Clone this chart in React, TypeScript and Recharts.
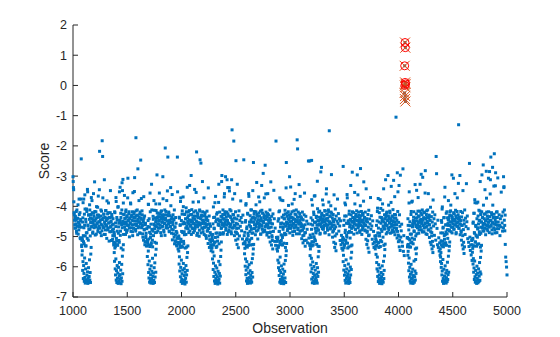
import React from 'react';
import { ScatterChart, Scatter, XAxis, YAxis } from 'recharts';

const xTicks = [1000, 1500, 2000, 2500, 3000, 3500, 4000, 4500, 5000];
const yTicks = [-7, -6, -5, -4, -3, -2, -1, 0, 1, 2];

// Scores x100. Band series A: one value every 4 observations from each start; series B: offset by 2.
const bandStep = 4;
const dipStep = 3;
const bandStarts = [1000, 1085, 1380, 1686, 1975, 2286, 2583, 2886, 3186, 3490, 3793, 4083, 4390, 4683, 4968];
const dipStarts = [1080, 1377, 1682, 1972, 2280, 2578, 2882, 3182, 3484, 3790, 4080, 4385, 4678];

const a00 = [-302, -338, -385, -428, -461, -437, -472, -446, -483, -412, -465, -439, -492, -455, -376, -468, -421, -507, -449, -243, -533];
const a01 = [-505, -452, -388, -517, -471, -426, -362, -498, -443, -531, -409, -487, -344, -462, -512, -428, -476, -395,
  -475, -438, -452, -371, -466, -421, -489, -447, -358, -433, -462, -417, -495, -442, -468, -401, -455, -429, -483, -366, -451, -436, -218, -472, -445, -412, -497, -462, -183, -235, -438, -471, -426, -312, -458, -493, -414, -447, -466, -382, -439, -478, -421, -455, -515, -437, -469, -348, -452, -484, -427, -462, -509, -441, -475, -522];
const a02 = [-492, -418, -523, -455, -371, -506, -437, -482, -529, -401, -468, -513, -352, -447, -496, -423, -538, -461,
  -322, -348, -311, -389, -452, -427, -468, -441, -493, -412, -458, -436, -479, -372, -447, -463, -418, -501, -438, -455, -392, -471, -429, -446, -484, -355, -462, -437, -419, -305, -448, -476, -173, -431, -458, -412, -494, -443, -467, -381, -452, -426, -489, -247, -439, -471, -415, -463, -502, -446, -368, -478, -432, -517, -456, -498, -531, -474];
const a03 = [-511, -467, -393, -528, -441, -486, -356, -503, -459, -521, -412, -478, -534, -433, -497, -381, -462, -519,
  -487, -452, -414, -468, -296, -437, -481, -423, -459, -446, -392, -472, -435, -418, -497, -451, -428, -466, -375, -443, -485, -457, -412, -207, -439, -471, -428, -462, -349, -237, -448, -419, -482, -455, -431, -467, -398, -442, -476, -361, -453, -428, -491, -445, -412, -469, -514, -437, -456, -527, -488, -237, -502];
const a04 = [-498, -436, -521, -463, -384, -509, -447, -532, -415, -487, -369, -516, -452, -494, -427, -538, -472, -405,
  -535, -472, -438, -456, -419, -487, -445, -331, -466, -428, -452, -493, -411, -447, -474, -386, -458, -432, -481, -443, -467, -415, -354, -220, -452, -489, -427, -461, -438, -499, -412, -246, -457, -257, -433, -471, -446, -418, -484, -452, -372, -469, -428, -455, -497, -436, -462, -416, -481, -447, -339, -474, -432, -458, -511, -466, -519, -493, -538, -503];
const a05 = [-513, -458, -402, -527, -474, -436, -518, -367, -489, -445, -532, -421, -501, -462, -387, -524, -448, -493,
  -491, -452, -473, -318, -436, -461, -412, -487, -443, -369, -458, -427, -302, -472, -446, -419, -493, -338, -455, -432, -478, -349, -411, -463, -437, -484, -312, -147, -452, -427, -471, -184, -439, -358, -464, -418, -249, -486, -442, -327, -459, -431, -472, -415, -498, -447, -466, -382, -437, -481, -453, -508, -429, -524, -246, -497];
const a06 = [-486, -524, -447, -391, -511, -468, -535, -426, -497, -358, -519, -452, -483, -528, -412, -476, -506, -439,
  -527, -488, -255, -452, -417, -473, -438, -461, -395, -482, -427, -455, -508, -444, -369, -471, -432, -458, -416, -492, -447, -331, -466, -423, -485, -451, -437, -372, -478, -264, -443, -419, -462, -495, -436, -358, -471, -428, -454, -487, -412, -446, -319, -469, -433, -502, -458, -425, -483, -347, -441, -516, -472, -529, -184, -503, -541, -512];
const a07 = [-507, -449, -531, -418, -483, -372, -516, -457, -494, -527, -436, -503, -381, -468, -522, -441, -489, -413,
  -536, -493, -255, -458, -423, -476, -441, -397, -463, -429, -488, -452, -336, -471, -437, -418, -465, -496, -442, -458, -377, -483, -426, -451, -468, -412, -447, -180, -210, -472, -436, -459, -491, -424, -367, -455, -481, -438, -463, -419, -497, -445, -472, -428, -356, -461, -487, -433, -512, -449, -476, -521, -458, -250, -505];
const a08 = [-495, -532, -438, -476, -517, -396, -462, -528, -419, -501, -453, -365, -514, -482, -437, -526, -471, -408,
  -532, -479, -448, -462, -416, -489, -437, -458, -271, -423, -474, -446, -395, -467, -431, -452, -488, -416, -441, -359, -463, -427, -479, -448, -412, -386, -150, -457, -432, -471, -419, -295, -462, -438, -485, -427, -451, -362, -474, -443, -409, -468, -432, -491, -449, -376, -457, -424, -482, -441, -465, -513, -448, -527, -496, -539, -512, -503];
const a09 = [-268, -508, -446, -527, -389, -479, -513, -432, -496, -361, -522, -457, -487, -534, -416, -468, -505, -443,
  -531, -486, -452, -287, -437, -469, -421, -458, -444, -392, -476, -433, -461, -415, -488, -447, -362, -466, -429, -453, -481, -438, -275, -462, -417, -493, -446, -471, -428, -383, -455, -437, -478, -419, -464, -342, -441, -486, -452, -427, -469, -413, -495, -442, -458, -371, -476, -431, -465, -509, -448, -524, -483, -536, -519, -498, -541, -507];
const a10 = [-512, -463, -529, -417, -488, -374, -521, -452, -498, -436, -533, -407, -476, -517, -443, -392, -502, -466,
  -529, -475, -441, -458, -312, -427, -463, -419, -486, -445, -472, -396, -438, -455, -421, -489, -447, -334, -466, -432, -478, -411, -452, -439, -484, -368, -461, -428, -105, -473, -446, -289, -417, -495, -453, -331, -428, -466, -297, -502, -481, -459, -518, -532, -276, -549, -497, -563];
const a11 = [-503, -441, -526, -478, -352, -511, -464, -535, -427, -492, -518, -383, -457, -524, -436, -481, -509, -449,
  -541, -498, -462, -347, -438, -471, -416, -455, -489, -432, -466, -327, -447, -423, -478, -452, -412, -304, -463, -438, -484, -421, -457, -282, -442, -469, -415, -493, -437, -455, -358, -478, -429, -461, -446, -403, -472, -434, -487, -452, -419, -379, -465, -441, -496, -428, -458, -512, -235, -292, -473, -527, -446, -536, -504, -548, -521, -562, -583];
const a12 = [-488, -527, -453, -409, -516, -472, -534, -438, -497, -369, -521, -461, -485, -529, -418, -477, -506, -444,
  -463, -437, -481, -418, -452, -396, -469, -431, -488, -443, -458, -307, -476, -425, -462, -449, -413, -491, -438, -466, -372, -452, -428, -130, -471, -443, -298, -459, -417, -486, -435, -463, -421, -348, -477, -446, -458, -412, -493, -439, -467, -325, -451, -432, -507, -474, -519, -533, -258, -502, -546, -528, -561, -513, -579];
const a13 = [-509, -456, -531, -423, -487, -378, -518, -463, -495, -532, -441, -502, -386, -471, -524, -447, -493, -416,
  -535, -489, -452, -418, -471, -437, -463, -396, -482, -441, -458, -425, -494, -447, -373, -466, -432, -481, -453, -418, -469, -285, -446, -312, -237, -462, -428, -491, -271, -454, -436, -333, -226, -478, -445, -289, -461, -419, -487, -437, -306, -452, -474, -428, -463, -497, -441, -468, -353, -432, -455, -482, -419, -471, -338, -446, -463, -429];
const a14 = [-302, -335, -412, -481, -526, -568, -583, -601, -627];

const b00 = [-318, -345, -421, -446, -472, -433, -458, -417, -489, -441, -466, -395, -452, -478, -427, -461, -504, -443, -376, -469, -512];
const b01 = [-512, -438, -497, -376, -524, -463, -409, -531, -452, -488, -417, -506, -352, -465, -429, -476, -443, -412, -498, -454, -427, -468, -381, -441, -485, -456, -423, -471, -319, -447, -463, -418, -492, -438, -457, -403, -474, -429, -466, -345, -451, -487, -432, -459, -416, -481, -444, -372, -467, -426, -493, -452, -437, -478, -414, -461, -506, -443, -425, -472, -389, -455, -438, -484, -421, -467, -449, -513, -436, -478, -497, -459, -528, -486];
const b02 = [-498, -421, -533, -467, -384, -515, -446, -527, -403, -489, -456, -519, -446, -337, -482, -437, -455, -412, -471, -449, -426, -493, -458, -364, -439, -477, -418, -452, -486, -431, -463, -307, -447, -425, -472, -441, -456, -389, -483, -434, -461, -418, -497, -448, -473, -426, -351, -459, -437, -482, -415, -464, -448, -429, -276, -471, -452, -436, -488, -419, -457, -443, -374, -466, -428, -491, -453, -512, -439, -476, -527, -461, -504, -489, -518];
const b03 = [-521, -447, -394, -508, -469, -533, -418, -492, -527, -327, -476, -512, -482, -443, -459, -413, -474, -438, -465, -392, -447, -486, -422, -458, -434, -471, -449, -356, -426, -462, -487, -441, -415, -468, -453, -302, -437, -479, -428, -455, -496, -444, -417, -463, -381, -449, -472, -431, -458, -423, -484, -446, -467, -338, -452, -489, -436, -511, -461, -478, -442, -502, -524, -468, -495, -517, -483, -531, -506, -352, -541, -519];
const b04 = [-506, -439, -528, -461, -372, -517, -483, -426, -535, -458, -401, -524, -484, -426, -457, -441, -493, -418, -466, -337, -449, -475, -431, -458, -414, -482, -446, -463, -298, -427, -471, -452, -438, -487, -419, -456, -344, -473, -433, -461, -449, -496, -422, -468, -437, -385, -454, -479, -416, -462, -441, -488, -429, -457, -318, -474, -446, -432, -493, -458, -421, -469, -445, -506, -437, -482, -459, -523, -472, -498, -536, -511, -487, -529, -547];
const b05 = [-493, -528, -437, -472, -519, -388, -503, -451, -536, -426, -488, -515, -442, -458, -327, -463, -419, -488, -446, -433, -471, -298, -455, -427, -492, -441, -466, -358, -418, -453, -479, -436, -462, -312, -447, -425, -484, -457, -338, -468, -433, -459, -415, -491, -444, -472, -376, -451, -428, -463, -497, -439, -485, -512, -456, -473, -526, -491, -508, -537];
const b06 = [-517, -452, -396, -531, -474, -507, -423, -489, -529, -367, -462, -511, -431, -467, -445, -412, -489, -452, -348, -437, -474, -426, -461, -443, -494, -418, -468, -321, -451, -433, -479, -457, -422, -466, -385, -447, -492, -438, -462, -413, -476, -449, -291, -455, -428, -483, -441, -467, -359, -432, -458, -487, -424, -463, -446, -502, -471, -439, -518, -485, -456, -528, -497, -513, -541];
const b07 = [-502, -536, -441, -483, -415, -522, -468, -379, -513, -455, -497, -528, -476, -429, -458, -441, -494, -425, -466, -339, -452, -433, -481, -457, -418, -469, -446, -302, -437, -473, -426, -461, -449, -392, -484, -438, -457, -415, -472, -443, -358, -463, -428, -491, -452, -436, -477, -419, -456, -328, -447, -482, -434, -468, -459, -507, -443, -479, -521, -465, -496, -513, -488, -532];
const b08 = [-524, -459, -503, -378, -531, -446, -492, -518, -427, -366, -509, -473, -452, -488, -433, -461, -317, -447, -478, -419, -458, -436, -492, -445, -286, -467, -428, -453, -379, -441, -476, -432, -463, -414, -487, -446, -458, -342, -427, -471, -439, -462, -418, -494, -451, -433, -475, -398, -456, -423, -468, -502, -447, -481, -519, -462, -536, -498, -524, -547];
const b09 = [-511, -463, -529, -432, -487, -395, -521, -456, -502, -372, -538, -448, -457, -426, -483, -446, -461, -331, -428, -473, -449, -418, -466, -437, -492, -453, -354, -441, -476, -427, -462, -448, -296, -435, -471, -419, -457, -444, -486, -398, -463, -431, -452, -478, -423, -467, -446, -319, -458, -437, -481, -463, -509, -448, -526, -482, -514, -538, -497, -552];
const b10 = [-497, -531, -448, -406, -519, -472, -536, -421, -489, -378, -513, -456, -437, -483, -449, -413, -466, -342, -451, -428, -474, -457, -436, -491, -422, -463, -447, -298, -432, -478, -455, -416, -469, -441, -387, -458, -486, -433, -462, -448, -314, -471, -427, -494, -452, -439, -476, -461, -505, -483, -352, -517, -498, -534, -512, -546];
const b11 = [-528, -463, -507, -389, -534, -451, -492, -521, -417, -386, -505, -468, -461, -447, -418, -484, -456, -328, -439, -467, -425, -491, -448, -462, -371, -433, -478, -452, -416, -469, -443, -294, -457, -428, -485, -446, -463, -419, -472, -438, -356, -455, -491, -427, -466, -449, -412, -478, -437, -461, -503, -446, -519, -484, -527, -498, -541, -516, -553, -532];
const b12 = [-514, -447, -532, -402, -488, -469, -526, -437, -509, -337, -493, -521, -423, -462, -491, -438, -457, -381, -446, -478, -429, -463, -415, -484, -452, -296, -437, -469, -448, -421, -475, -443, -358, -461, -432, -487, -455, -417, -466, -442, -324, -473, -436, -458, -494, -447, -481, -512, -463, -528, -497, -541, -519, -556, -534];
const b13 = [-506, -452, -531, -423, -489, -388, -518, -467, -498, -389, -527, -475, -432, -458, -413, -484, -446, -318, -427, -469, -452, -296, -438, -481, -263, -457, -426, -473, -345, -448, -462, -284, -419, -476, -441, -463, -307, -452, -487, -434, -359, -466, -447, -421, -478, -455, -396, -438, -471, -426, -459, -488, -332, -452, -437, -474, -418, -463];

const d01 = [-528, -561, -547, -612, -583, -639, -596, -622, -648, -571, -635, -654, -607, -643, -589, -651, -628, -646, -617, -655, -638, -603, -649, -632, -577, -644, -619, -652, -558, -536];
const d02 = [-519, -553, -582, -538, -607, -627, -574, -644, -613, -652, -596, -638, -621, -655, -602, -647, -631, -586, -653, -626, -641, -611, -656, -637, -592, -648, -565, -623, -544, -527];
const d03 = [-531, -566, -514, -593, -548, -619, -637, -581, -651, -608, -643, -626, -654, -597, -639, -615, -649, -572, -632, -655, -621, -645, -603, -652, -587, -634, -561, -618, -542, -522];
const d04 = [-524, -548, -591, -567, -614, -536, -633, -602, -649, -578, -641, -623, -655, -611, -646, -589, -652, -629, -606, -644, -657, -618, -638, -596, -651, -627, -569, -612, -553, -531];
const d05 = [-537, -512, -574, -551, -609, -588, -632, -564, -647, -618, -655, -597, -639, -626, -652, -604, -645, -633, -657, -615, -649, -582, -641, -622, -654, -593, -631, -566, -545, -518];
const d06 = [-522, -557, -539, -598, -574, -626, -611, -647, -583, -638, -655, -602, -644, -621, -652, -593, -636, -649, -613, -654, -628, -642, -587, -651, -619, -573, -634, -558, -541, -526];
const d07 = [-516, -548, -578, -531, -603, -587, -629, -612, -651, -568, -642, -619, -655, -597, -646, -633, -653, -608, -639, -624, -656, -591, -648, -615, -637, -579, -652, -563, -547, -523];
const d08 = [-529, -563, -541, -594, -617, -572, -641, -606, -653, -584, -635, -622, -648, -599, -655, -628, -643, -611, -651, -636, -589, -646, -624, -654, -603, -632, -567, -618, -549, -533];
const d09 = [-521, -545, -583, -562, -611, -537, -628, -596, -645, -618, -654, -577, -639, -607, -651, -632, -623, -648, -591, -655, -614, -642, -636, -652, -601, -627, -571, -609, -552, -528];
const d10 = [-532, -559, -517, -586, -607, -568, -632, -615, -649, -593, -641, -627, -655, -604, -646, -638, -652, -619, -633, -656, -597, -644, -625, -651, -582, -639, -612, -564, -543, -525];
const d11 = [-505, -534, -562, -549, -588, -613, -571, -634, -602, -647, -625, -654, -592, -641, -618, -652, -637, -608, -655, -629, -646, -581, -651, -633, -614, -644, -576, -622, -557, -538];
const d12 = [-541, -568, -553, -602, -589, -627, -614, -648, -576, -639, -655, -608, -646, -631, -652, -597, -643, -621, -654, -636, -612, -649, -585, -642, -626, -565, -618, -547, -532, -518];
const d13 = [-527, -552, -539, -591, -573, -618, -604, -642, -581, -633, -651, -612, -647, -626, -655, -598, -638, -621, -653, -644, -607, -649, -631, -586, -645, -617, -569, -624, -548, -529];

const extraObs = [3182, 3199];
const extraScore = [-2.5, -2.48];

// flagged observations near 4060
const flaggedObs = [4060, 4063, 4057, 4061, 4066, 4058, 4063, 4056, 4061, 4059, 4064];
const flaggedScore = [1.42, 1.25, 0.65, 0.1, 0.05, 0.0, -0.06, -0.25, -0.35, -0.45, -0.53];
const circledCount = 6;

const bandA = [a00, a01, a02, a03, a04, a05, a06, a07, a08, a09, a10, a11, a12, a13, a14];
const bandB = [b00, b01, b02, b03, b04, b05, b06, b07, b08, b09, b10, b11, b12, b13];
const dips = [d01, d02, d03, d04, d05, d06, d07, d08, d09, d10, d11, d12, d13];

const mainData: { x: number; y: number }[] = [];
const push = (x: number, v: number) => {
  if (x >= 1000 && x <= 5000) mainData.push({ x, y: v / 100 });
};
bandA.forEach((seg, si) => seg.forEach((v, i) => push(bandStarts[si] + i * bandStep, v)));
bandB.forEach((seg, si) => seg.forEach((v, i) => push(bandStarts[si] + 2 + i * bandStep, v)));
dips.forEach((seg, si) => seg.forEach((v, i) => push(dipStarts[si] + i * dipStep, v)));
extraObs.forEach((x, i) => mainData.push({ x, y: extraScore[i] }));

const flaggedData = flaggedObs.map((x, i) => ({ x, y: flaggedScore[i] }));
const circledData = flaggedData.slice(0, circledCount);

const BLUE = '#0072BD';
const AXIS = '#262626';
const FONT = '"Liberation Sans", Arial, Helvetica, sans-serif';

const Square = (props: any) => {
  const { cx, cy } = props;
  return <rect x={cx - 1.5} y={cy - 1.5} width={3} height={3} fill={BLUE} />;
};
const GraySquare = (props: any) => {
  const { cx, cy } = props;
  return <rect x={cx - 1.5} y={cy - 1.5} width={3} height={3} fill="#6e6e6e" />;
};
const Ring = (props: any) => {
  const { cx, cy } = props;
  return <circle cx={cx} cy={cy} r={4} fill="none" stroke="#FF0000" strokeWidth={1} />;
};
const Cross = (props: any) => {
  const { cx, cy } = props;
  const s = 5;
  return (
    <path
      d={`M${cx - s},${cy - s}L${cx + s},${cy + s}M${cx - s},${cy + s}L${cx + s},${cy - s}`}
      stroke="#D95319"
      strokeWidth={1}
      fill="none"
    />
  );
};

export default function App() {
  return (
    <div style={{ position: 'absolute', left: 0, top: 0, width: 560, height: 337, background: '#fff' }}>
      <ScatterChart width={560} height={337} margin={{ top: 25, right: 53, bottom: 0, left: 0 }}>
        <XAxis
          type="number"
          dataKey="x"
          domain={[1000, 5000]}
          ticks={xTicks}
          height={40}
          tickSize={-5}
          tickMargin={14}
          stroke={AXIS}
          tick={{ fill: AXIS, fontSize: 12.5, fontFamily: FONT }}
          axisLine={{ stroke: AXIS }}
          tickLine={{ stroke: AXIS }}
          label={{ value: 'Observation', position: 'insideBottom', offset: 4, fill: AXIS, fontSize: 14, fontFamily: FONT }}
        />
        <YAxis
          type="number"
          dataKey="y"
          domain={[-7, 2]}
          ticks={yTicks}
          width={73}
          tickSize={-5}
          tickMargin={11}
          stroke={AXIS}
          tick={{ fill: AXIS, fontSize: 12.5, fontFamily: FONT }}
          axisLine={{ stroke: AXIS }}
          tickLine={{ stroke: AXIS }}
          label={{ value: 'Score', angle: -90, position: 'insideLeft', offset: 44, fill: AXIS, fontSize: 14, fontFamily: FONT, style: { textAnchor: 'middle' } }}
        />
        <Scatter data={mainData} shape={Square} isAnimationActive={false} />
        <Scatter data={flaggedData} shape={GraySquare} isAnimationActive={false} />
        <Scatter data={flaggedData} shape={Cross} isAnimationActive={false} />
        <Scatter data={circledData} shape={Ring} isAnimationActive={false} />
      </ScatterChart>
    </div>
  );
}
